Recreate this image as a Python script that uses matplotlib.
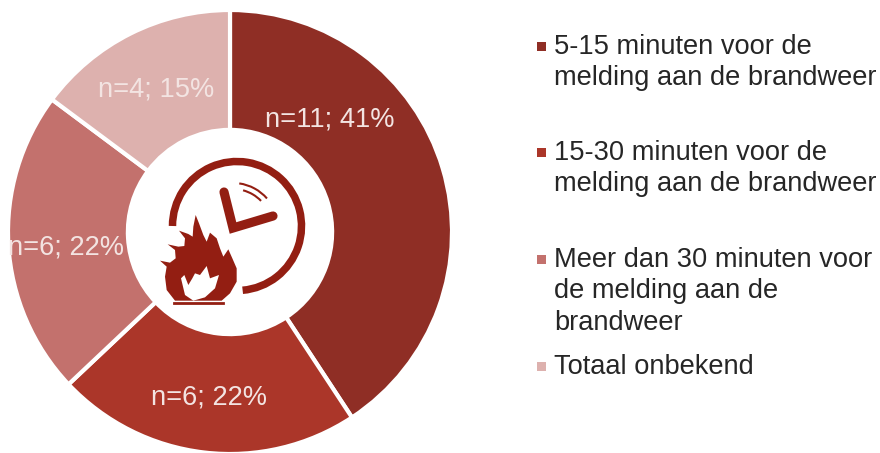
import numpy as np
import matplotlib.pyplot as plt
from matplotlib.patches import Arc, Polygon, Rectangle

plt.rcParams['font.family'] = ['Liberation Sans', 'DejaVu Sans']

# Data
waarden = [11, 6, 6, 4]
percentages = [41, 22, 22, 15]
kleuren = ['#8F2E25', '#AB3629', '#C3716D', '#DDB1AE']
labels = ['5-15 minuten voor de\nmelding aan de brandweer',
          '15-30 minuten voor de\nmelding aan de brandweer',
          'Meer dan 30 minuten voor\nde melding aan de\nbrandweer',
          'Totaal onbekend']
legenda_y = [46, 152, 259, 366]
label_pos = [(330, 120), (209, 397), (66, 247), (156, 90)]

# Icon outline, traced at 3x from (155, 210)
vlam = np.array([(60, 272), (35, 240), (30, 200), (35, 170), (15, 152), (45, 158), (62, 145),
                 (60, 120), (38, 103), (70, 110), (88, 108), (90, 85), (72, 62), (100, 72),
                 (113, 80), (115, 50), (122, 15), (132, 40), (145, 75), (155, 95), (165, 68),
                 (185, 85), (195, 115), (205, 140), (220, 118), (232, 145), (245, 175),
                 (245, 215), (225, 250), (200, 272)]) / 3 + (155, 210)
vlam_binnen = np.array([(78, 205), (88, 195), (100, 225), (112, 205), (120, 190), (135, 195),
                        (155, 168), (165, 205), (192, 195), (180, 235), (150, 262), (115, 272),
                        (90, 255)]) / 3 + (155, 210)
wijzers = [(224, 192), (233, 228), (273, 216)]
ICON = '#931E12'

fig = plt.figure(figsize=(8.8, 4.53), dpi=100)

# Donut
ax = fig.add_axes([8 / 880, -1 / 453, 444 / 880, 444 / 453])
ax.pie(waarden, colors=kleuren, startangle=90, counterclock=False, radius=1,
       wedgeprops=dict(width=0.54, edgecolor='white', linewidth=3))
ax.set_xlim(-1, 1)
ax.set_ylim(-1, 1)

# Overlay in pixels for text and icon
ov = fig.add_axes([0, 0, 1, 1])
ov.set_xlim(0, 880)
ov.set_ylim(453, 0)
ov.axis('off')

for n, p, (x, y) in zip(waarden, percentages, label_pos):
    ov.text(x, y, f'n={n}; {p}%', color='#F3E4E2', fontsize=19.6, ha='center', va='center')

for lab, y, kleur in zip(labels, legenda_y, kleuren):
    ov.add_patch(Rectangle((536.5, y - 4.5), 9, 9, color=kleur, lw=0))
    ov.text(554, y - 12, lab, color='#262626', fontsize=19.6, ha='left', va='top', linespacing=1.27)

# Clock
ov.add_patch(Arc((237, 226), 129, 129, theta1=180, theta2=445, color=ICON, lw=5.4))
xs, ys = zip(*wijzers)
ov.plot(xs, ys, color=ICON, lw=6.6, solid_capstyle='round', solid_joinstyle='miter')
ov.add_patch(Arc((233, 228), 90, 90, theta1=-82, theta2=-41, color=ICON, lw=1.5))
ov.add_patch(Arc((233, 228), 78, 78, theta1=-75, theta2=-44, color=ICON, lw=1.5))

# Flame
ov.add_patch(Polygon(vlam, closed=True, color=ICON, lw=0))
ov.add_patch(Polygon(vlam_binnen, closed=True, color='white', lw=0))
ov.plot([174, 223], [302.5, 302.5], color=ICON, lw=2)

fig.savefig('out.png', dpi=100)
